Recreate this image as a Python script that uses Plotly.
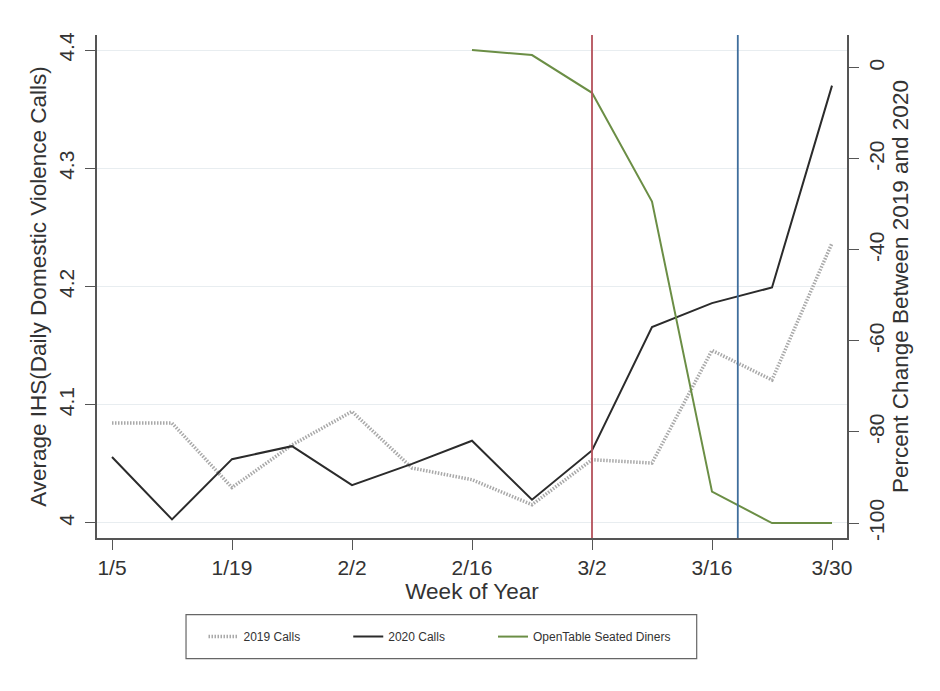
import plotly.graph_objects as go

# ---- data ----
week_idx = list(range(13))
week_labels = ["1/5", "1/12", "1/19", "1/26", "2/2", "2/9", "2/16",
               "2/23", "3/2", "3/9", "3/16", "3/23", "3/30"]
tick_idx = [0, 2, 4, 6, 8, 10, 12]
tick_labels = ["1/5", "1/19", "2/2", "2/16", "3/2", "3/16", "3/30"]

calls_2019 = [4.0845, 4.0845, 4.030, 4.066, 4.0943, 4.0465, 4.0366,
              4.0155, 4.0535, 4.0507, 4.146, 4.121, 4.2367]
calls_2020 = [4.0558, 4.003, 4.054, 4.065, 4.032, 4.050, 4.0696,
              4.0197, 4.0614, 4.1657, 4.186, 4.1992, 4.370]
opentable_idx = [6, 7, 8, 9, 10, 11, 12]
opentable_pct = [3.9, 2.8, -5.5, -29.4, -93.1, -100, -100]

event_lines = [8, 10.43]          # 3/2 and ~3/19
event_colors = ["#b4505a", "#3f6e9c"]

left_ticks = [4.0, 4.1, 4.2, 4.3, 4.4]
left_ticktext = ["4", "4.1", "4.2", "4.3", "4.4"]
right_ticks = [0, -20, -40, -60, -80, -100]
right_ticktext = ["0", "-20", "-40", "-60", "-80", "-100"]

FONT = "Liberation Sans, Arial, sans-serif"
AX = "#555555"
TXT = "#333333"

fig = go.Figure()
fig.add_trace(go.Scatter(
    x=week_idx, y=calls_2019, mode="lines", name="2019 Calls",
    legend="legend",
    line=dict(color="#a9a9a9", width=3.5, dash="1.5px,1.5px")))
fig.add_trace(go.Scatter(
    x=week_idx, y=calls_2020, mode="lines", name="2020 Calls",
    legend="legend2",
    line=dict(color="#2b2b2b", width=2)))
fig.add_trace(go.Scatter(
    x=opentable_idx, y=opentable_pct, mode="lines",
    name="OpenTable Seated Diners", yaxis="y2", legend="legend3",
    line=dict(color="#6b8e45", width=2)))

shapes = []
for xv, c in zip(event_lines, event_colors):
    shapes.append(dict(type="line", xref="x", yref="paper", x0=xv, x1=xv,
                       y0=0, y1=1, line=dict(color=c, width=1.8), layer="above"))
# legend frame
shapes.append(dict(type="rect", xref="paper", yref="paper",
                   x0=0.1187, x1=0.7996, y0=-0.2398, y1=-0.1524,
                   line=dict(color="#666666", width=1.2)))

leg_common = dict(orientation="h", xanchor="left", y=-0.196, yanchor="middle",
                  bgcolor="rgba(0,0,0,0)",
                  font=dict(size=12, color=TXT, family=FONT))

fig.update_layout(
    width=940, height=691,
    margin=dict(l=97, r=93, t=35, b=153),
    paper_bgcolor="white", plot_bgcolor="white",
    font=dict(family=FONT, color=TXT, size=21),
    showlegend=True,
    legend=dict(x=0.142, **leg_common),
    legend2=dict(x=0.335, **leg_common),
    legend3=dict(x=0.528, **leg_common),
    shapes=shapes,
    xaxis=dict(range=[-0.25, 12.25], tickvals=tick_idx, ticktext=tick_labels,
               showgrid=False, zeroline=False, showline=True, linecolor=AX,
               linewidth=1.5, ticks="outside", ticklen=10, tickcolor=AX,
               tickwidth=1.2, tickfont=dict(size=21),
               title=dict(text="Week of Year", font=dict(size=22.5), standoff=2)),
    yaxis=dict(range=[3.9873, 4.4128], tickvals=left_ticks,
               ticktext=left_ticktext, tickangle=-90, tickfont=dict(size=21),
               ticklabelstandoff=3,
               showgrid=True, gridcolor="#e8edf0", gridwidth=1,
               zeroline=False, showline=True, linecolor=AX, linewidth=1.5,
               ticks="outside", ticklen=10, tickcolor=AX, tickwidth=1.2,
               title=dict(text="Average IHS(Daily Domestic Violence Calls)",
                          font=dict(size=22.5), standoff=2)),
    yaxis2=dict(range=[-103.29, 7.2], tickvals=right_ticks,
                ticktext=right_ticktext, tickangle=-90, tickfont=dict(size=21),
                overlaying="y", side="right", showgrid=False, zeroline=False,
                showline=True, linecolor=AX, linewidth=1.5,
                ticks="outside", ticklen=10, tickcolor=AX, tickwidth=1.2,
                title=dict(text="Percent Change Between 2019 and 2020",
                           font=dict(size=22.5), standoff=2)),
)

fig.write_html("out.html")
